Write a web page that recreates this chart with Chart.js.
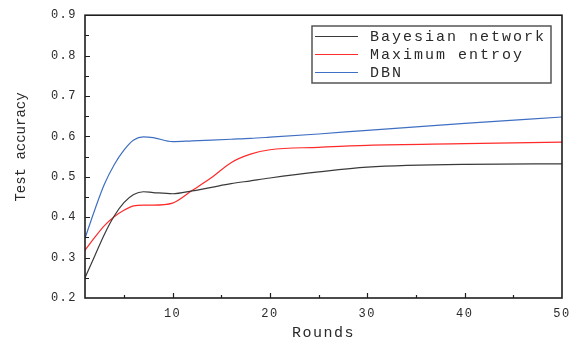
<!DOCTYPE html>
<html>
<head>
<meta charset="utf-8">
<script src="https://cdn.jsdelivr.net/npm/chart.js@4.4.1/dist/chart.umd.min.js"></script>
<style>
    html, body { margin: 0; padding: 0; background: #fff; }
    #wrap { width: 582px; height: 344px; position: relative; }
</style>
</head>
<body>
<div id="wrap"><canvas id="accuracyChart"></canvas></div>
<script>
(function () {
    'use strict';

    // values
    const rounds = [1, 2, 3, 4, 5, 6, 7, 8, 10, 12, 14, 16, 18, 20, 25, 30, 40, 50];
    const bayesian = [0.250, 0.304, 0.358, 0.403, 0.436, 0.456, 0.463, 0.461, 0.458, 0.465, 0.474, 0.483, 0.490, 0.497, 0.512, 0.524, 0.531, 0.532];
    const maxEntropy = [0.318, 0.350, 0.379, 0.401, 0.417, 0.428, 0.430, 0.430, 0.435, 0.466, 0.498, 0.535, 0.556, 0.567, 0.573, 0.578, 0.582, 0.586];
    const dbn = [0.348, 0.418, 0.482, 0.530, 0.566, 0.591, 0.599, 0.597, 0.587, 0.589, 0.591, 0.593, 0.595, 0.598, 0.606, 0.615, 0.632, 0.648];
    const xTicks = [10, 20, 30, 40, 50];
    const seriesNames = ['Bayesian network', 'Maximum entroy', 'DBN'];

    const palette = {
        black: '#3a3a3a',
        red: '#ff2a2a',
        blue: '#3f6fc2',
        axis: '#1e1e1e',
        text: '#2a2a2a'
    };

    const monoFont = "'Liberation Mono', 'DejaVu Sans Mono', monospace";

    function points(values) {
        return rounds.map((r, i) => ({ x: r, y: values[i] }));
    }

    function line(label, values, color) {
        return {
            label,
            data: points(values),
            borderColor: color,
            backgroundColor: color,
            borderWidth: 1.2,
            pointRadius: 0,
            cubicInterpolationMode: 'monotone',
            fill: false
        };
    }

    // canvas resets letterSpacing on resize, so set it before layout and draw
    const spacing = {
        id: 'spacing',
        beforeLayout(chart) { chart.ctx.letterSpacing = '1.5px'; },
        beforeDraw(chart) { chart.ctx.letterSpacing = '1.5px'; }
    };

    const frame = {
        id: 'frame',
        afterDraw(chart) {
            const { ctx, chartArea: a, scales } = chart;
            ctx.save();
            ctx.strokeStyle = palette.axis;
            ctx.lineWidth = 1.6;
            ctx.strokeRect(a.left, a.top, a.right - a.left, a.bottom - a.top);

            ctx.lineWidth = 1.2;
            ctx.beginPath();
            for (let v = 5; v < 50; v += 5) {
                const px = Math.round(scales.x.getPixelForValue(v)) + 0.5;
                const len = v % 10 === 0 ? 5 : 3;
                ctx.moveTo(px, a.bottom);
                ctx.lineTo(px, a.bottom - len);
            }
            for (let k = 5; k < 18; k++) {
                const v = k * 0.05;
                const py = Math.round(scales.y.getPixelForValue(v)) + 0.5;
                const len = k % 2 === 0 ? 5 : 4;
                ctx.moveTo(a.left, py);
                ctx.lineTo(a.left + len, py);
            }
            ctx.stroke();

            // axis titles
            ctx.fillStyle = palette.text;
            ctx.letterSpacing = '1.5px';
            ctx.font = '15px ' + monoFont;
            ctx.textAlign = 'center';
            ctx.textBaseline = 'middle';
            ctx.fillText('Rounds', (a.left + a.right) / 2, 333);

            ctx.letterSpacing = '0px';
            ctx.font = '14px ' + monoFont;
            ctx.translate(21, 147);
            ctx.rotate(-Math.PI / 2);
            ctx.fillText('Test accuracy', 0, 0);
            ctx.restore();

            // legend box
            ctx.save();
            ctx.fillStyle = '#fff';
            ctx.fillRect(312, 26, 239, 57);
            ctx.strokeStyle = '#555';
            ctx.lineWidth = 1.5;
            ctx.strokeRect(312, 26, 239, 57);
            ctx.font = '15px ' + monoFont;
            ctx.letterSpacing = '2px';
            ctx.textAlign = 'left';
            ctx.textBaseline = 'middle';
            chart.data.datasets.forEach((ds, i) => {
                const y = 36 + i * 18;
                ctx.strokeStyle = ds.borderColor;
                ctx.lineWidth = 1.2;
                ctx.beginPath();
                ctx.moveTo(315, y + 0.5);
                ctx.lineTo(358, y + 0.5);
                ctx.stroke();
                ctx.fillStyle = palette.text;
                ctx.fillText(ds.label, 370, y + 1);
            });
            ctx.restore();
        }
    };

    new Chart(document.getElementById('accuracyChart'), {
        type: 'line',
        data: {
            datasets: [
                line(seriesNames[0], bayesian, palette.black),
                line(seriesNames[1], maxEntropy, palette.red),
                line(seriesNames[2], dbn, palette.blue)
            ]
        },
        options: {
            responsive: true,
            maintainAspectRatio: false,
            animation: false,
            layout: { padding: { top: 12, right: 20, left: 0, bottom: 0 } },
            plugins: {
                legend: { display: false },
                tooltip: { enabled: false }
            },
            scales: {
                x: {
                    type: 'linear',
                    min: 1,
                    max: 50,
                    grid: { display: false, drawTicks: false },
                    border: { display: false },
                    afterBuildTicks(scale) { scale.ticks = xTicks.map((v) => ({ value: v })); },
                    afterFit(scale) { scale.height = 46; },
                    ticks: {
                        color: palette.text,
                        padding: 9,
                        maxRotation: 0,
                        font: { family: monoFont, size: 12 }
                    }
                },
                y: {
                    min: 0.2,
                    max: 0.9,
                    grid: { display: false, drawTicks: false },
                    border: { display: false },
                    afterFit(scale) { scale.width = 85; },
                    ticks: {
                        stepSize: 0.1,
                        color: palette.text,
                        padding: 8,
                        font: { family: monoFont, size: 12 },
                        callback: (v) => Number(v).toFixed(1)
                    }
                }
            }
        },
        plugins: [spacing, frame]
    });
})();
</script>
</body>
</html>
